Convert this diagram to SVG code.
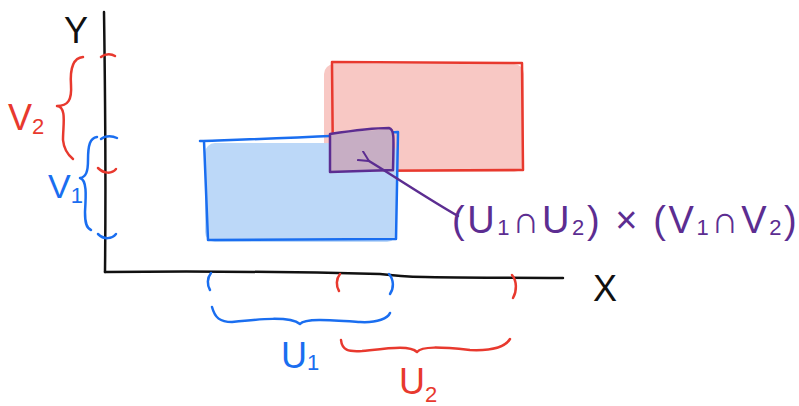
<svg xmlns="http://www.w3.org/2000/svg" width="799" height="406" viewBox="0 0 799 406">
<style>
.ax{fill:none;stroke:#111;stroke-width:2.5;stroke-linecap:round;stroke-linejoin:round}
.r{fill:none;stroke:#e8392e;stroke-width:2.5;stroke-linecap:round;stroke-linejoin:round}
.b{fill:none;stroke:#1a6ef0;stroke-width:2.5;stroke-linecap:round;stroke-linejoin:round}
.p{fill:none;stroke:#5c2d91;stroke-width:2.5;stroke-linecap:round;stroke-linejoin:round}
.t{font-family:"Liberation Sans","DejaVu Sans",sans-serif}
</style>
<defs>
<marker id="ah" viewBox="0 0 12 12" refX="1" refY="6" markerWidth="12" markerHeight="12" markerUnits="userSpaceOnUse" orient="auto">
<path d="M11,1 L1,6 L11,11" fill="none" stroke="#5c2d91" stroke-width="2" stroke-linecap="round"/>
</marker>
</defs>
<g id="axes">
<path class="ax" d="M104,12 C105,80 106,180 105,272"/>
<path class="ax" d="M105,272 C200,271 300,272 380,274 C420,279 460,277 563,278"/>
<text class="t" x="64" y="43" font-size="36" fill="#111">Y</text>
<text class="t" x="593" y="301" font-size="36" fill="#111">X</text>
</g>
<g id="set-red">
<rect x="324" y="64" width="200" height="108" rx="10" fill="#f8c8c4"/>
<path class="r" d="M332,62 L522,63 L523,170 L333,171 Z"/>
</g>
<g id="set-blue">
<rect x="205" y="143" width="192" height="99" rx="10" fill="#bcd8f8"/>
<path class="b" d="M200,141 C260,139 330,137 398,132 L396,239 L208,240 L204,141"/>
</g>
<g id="intersection">
<path d="M330,133 L392,129 L394,172 L330,171 Z" fill="#c7aec4"/>
<path class="p" d="M330,134 C350,131 370,128 389,128 C394,129 394,134 393,170 L330,172 Z"/>
</g>
<g id="y-intervals">
<path class="r" d="M101,57 C106,53 112,54 115,56"/>
<path class="r" d="M98,168 C104,174 112,174 116,169"/>
<path class="b" d="M101,139 C106,135 113,136 117,138"/>
<path class="b" d="M98,234 C104,240 112,239 116,234"/>
<path class="r" d="M83,57 C72,58 70,70 71,85 C72,100 68,106 57,106 C67,107 63,125 63,140 C64,150 68,155 73,159"/>
<path class="b" d="M97,137 C90,138 88,145 88,160 C88,172 86,177 80,178 C87,180 86,195 85,212 C85,222 86,228 91,230"/>
<text class="t" x="8" y="130" font-size="36" fill="#e8392e">V<tspan font-size="22" dy="4">2</tspan></text>
<text class="t" x="48" y="198" font-size="34" fill="#1a6ef0">V<tspan font-size="22" dy="5">1</tspan></text>
</g>
<g id="x-intervals">
<path class="b" d="M211,273 C207,278 207,285 210,290"/>
<path class="r" d="M340,274 C336,279 336,286 339,291"/>
<path class="b" d="M389,274 C394,280 394,288 390,294"/>
<path class="r" d="M512,275 C517,281 517,291 513,298"/>
<path class="b" d="M212,307 C215,318 220,322 232,322 C260,319 290,316 300,324 C305,318 330,320 360,322 C378,323 388,318 390,313"/>
<path class="r" d="M341,340 C342,350 348,352 362,351 C390,348 410,345 417,352 C422,346 440,347 470,350 C492,351 505,347 510,339"/>
<text class="t" x="281" y="368" font-size="36" fill="#1a6ef0">U<tspan font-size="22" dy="2">1</tspan></text>
<text class="t" x="399" y="394" font-size="36" fill="#e8392e">U<tspan font-size="22" dy="8">2</tspan></text>
</g>
<g id="connectors">
<path class="p" d="M458,216 C430,200 400,180 369,161" marker-end="url(#ah)"/>
</g>
<g id="label">
<text class="t" x="452" y="233" font-size="38" letter-spacing="2.6" fill="#5c2d91">(U<tspan font-size="22" dy="2">1</tspan><tspan dy="-2">∩U</tspan><tspan font-size="22" dy="2">2</tspan><tspan dy="-2">) × (V</tspan><tspan font-size="22" dy="2">1</tspan><tspan dy="-2">∩V</tspan><tspan font-size="22" dy="2">2</tspan><tspan dy="-2">)</tspan></text>
</g>
</svg>
